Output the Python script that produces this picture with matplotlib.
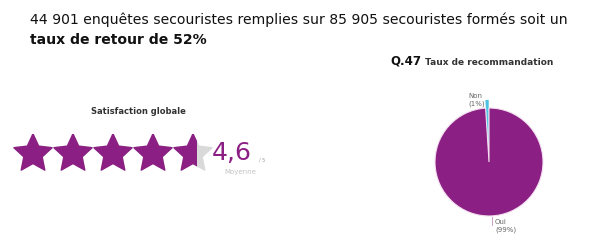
import numpy as np
import matplotlib
matplotlib.use("Agg")
import matplotlib.pyplot as plt
from matplotlib.patches import Polygon, Rectangle

# data
rating = 4.6
rating_max = 5
pie_labels = ["Non", "Oui"]
pie_values = [1, 99]

PURPLE = "#8c1f83"
GREY_STAR = "#d9d9d9"
CYAN = "#4fc3e3"

W, H = 598, 241
fig = plt.figure(figsize=(W / 100, H / 100), dpi=100)


def px(x, y):
    return x / W, 1 - y / H


def ax_px(x0, y0, w, h):
    return fig.add_axes([x0 / W, 1 - (y0 + h) / H, w / W, h / H])


# header text
fig.text(*px(30, 24), "44 901 enquêtes secouristes remplies sur 85 905 secouristes formés soit un",
         fontsize=10.1, color="#111111", va="baseline")
fig.text(*px(30, 44), "taux de retour de 52%", fontsize=10.1, fontweight="bold",
         color="#111111", va="baseline")

# stars
fig.text(*px(138, 112), "Satisfaction globale", fontsize=6, fontweight="bold",
         color="#333333", ha="center", va="center")

sax = ax_px(13, 133.5, 200, 40)
sax.set_xlim(0, rating_max)
sax.set_ylim(0, 1)
sax.axis("off")

R, r = 0.5, 0.24
ang = np.pi / 2 + np.arange(10) * np.pi / 5
rad = np.where(np.arange(10) % 2 == 0, R, r)
for i in range(rating_max):
    cx, cy = i + 0.5, 0.49
    pts = np.c_[cx + rad * np.cos(ang), cy + rad * np.sin(ang)]
    sax.add_patch(Polygon(pts, closed=True, fc=GREY_STAR, ec=GREY_STAR, lw=1, joinstyle="round"))
    frac = np.clip(rating - i, 0, 1)
    if frac > 0:
        star = Polygon(pts, closed=True, fc=PURPLE, ec=PURPLE, lw=1, joinstyle="round")
        sax.add_patch(star)
        clip = Rectangle((cx - R - 0.05, 0), (2 * R + 0.1) * frac, 1, transform=sax.transData)
        star.set_clip_path(clip)

fig.text(*px(212, 160), f"{rating:.1f}".replace(".", ","), fontsize=18,
         color=PURPLE, va="baseline")
fig.text(*px(259, 161), f"/ {rating_max}", fontsize=3.5, color="#999999", va="baseline")
fig.text(*px(240, 172), "Moyenne", fontsize=5, color="#c4c4c4", ha="center", va="center")

# pie
fig.text(*px(390, 65), "Q.47", fontsize=8.5, fontweight="bold", color="#111111", va="baseline")
fig.text(*px(425, 65), "Taux de recommandation", fontsize=6.5, fontweight="bold",
         color="#333333", va="baseline")

pax = ax_px(435, 108, 108, 108)
wedges, _ = pax.pie(pie_values, colors=[CYAN, PURPLE], startangle=90,
                    explode=[0.15, 0], radius=1,
                    wedgeprops=dict(edgecolor="none", linewidth=0))
for w in wedges:
    w.set_clip_on(False)
wedges[1].set_edgecolor("#f3dff0")
wedges[1].set_linewidth(0.8)
pax.set_xlim(-1, 1)
pax.set_ylim(-1, 1)
pax.set_aspect("equal")

pct = [v / sum(pie_values) * 100 for v in pie_values]
fig.text(*px(468, 100), f"{pie_labels[0]}\n({pct[0]:.0f}%)", fontsize=5, color="#666666",
         va="center", ha="left", linespacing=1.3)
fig.text(*px(495, 226), f"{pie_labels[1]}\n({pct[1]:.0f}%)", fontsize=5, color="#666666",
         va="center", ha="left", linespacing=1.3)
fig.add_artist(plt.Line2D([492 / W, 492 / W], [1 - 217 / H, 1 - 225 / H], color="#c9a0c4", lw=0.7))

fig.savefig("out.png", dpi=100, facecolor="white")
